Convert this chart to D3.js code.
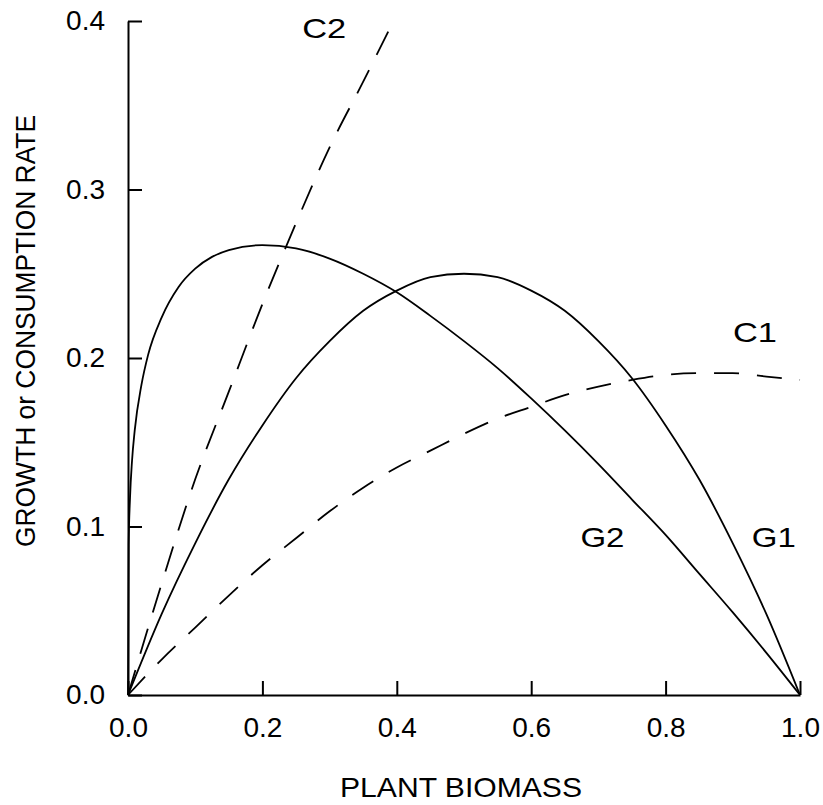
<!DOCTYPE html>
<html>
<head>
<meta charset="utf-8">
<script src="https://cdn.jsdelivr.net/npm/d3@7"></script>
<style>
  body { margin: 0; background: #fff; }
  svg text { font-family: "Liberation Sans", Arial, sans-serif; fill: #000; }
</style>
</head>
<body>
<div class="chart"></div>
<script>
// values
const xTicks = [0, 0.2, 0.4, 0.6, 0.8, 1.0];
const yTicks = [0, 0.1, 0.2, 0.3, 0.4];

const g1X = [0, 0.05, 0.1, 0.15, 0.2, 0.25, 0.3, 0.35, 0.4, 0.45, 0.5, 0.55, 0.6, 0.65, 0.7, 0.75, 0.8, 0.85, 0.9, 0.95, 1.0];
const g1Y = [0, 0.048, 0.09, 0.128, 0.16, 0.188, 0.21, 0.228, 0.24, 0.248, 0.25, 0.248, 0.24, 0.228, 0.21, 0.188, 0.16, 0.128, 0.09, 0.048, 0];

const g2X = [0, 0.001, 0.003, 0.006, 0.01, 0.02, 0.03, 0.05, 0.075, 0.1, 0.125, 0.15, 0.2, 0.25, 0.3, 0.35, 0.4, 0.45, 0.5, 0.55, 0.6, 0.65, 0.7, 0.75, 0.8, 0.85, 0.9, 0.95, 1.0];
const g2Y = [0, 0.089, 0.117, 0.139, 0.157, 0.184, 0.202, 0.224, 0.242, 0.253, 0.26, 0.264, 0.267, 0.265, 0.259, 0.25, 0.239, 0.225, 0.21, 0.194, 0.176, 0.157, 0.137, 0.116, 0.095, 0.072, 0.049, 0.025, 0];

const c1X = [0, 0.05, 0.1, 0.15, 0.2, 0.25, 0.3, 0.35, 0.4, 0.45, 0.5, 0.55, 0.6, 0.65, 0.7, 0.75, 0.8, 0.85, 0.9, 0.95, 1.0];
const c1Y = [0, 0.021, 0.04, 0.059, 0.077, 0.093, 0.109, 0.123, 0.135, 0.145, 0.155, 0.164, 0.171, 0.178, 0.183, 0.187, 0.19, 0.191, 0.191, 0.189, 0.187];

const c2X = [0, 0.05, 0.1, 0.15, 0.2, 0.25, 0.3, 0.35, 0.395];
const c2Y = [0, 0.066, 0.128, 0.18, 0.232, 0.28, 0.325, 0.364, 0.4];

// label anchors (centre x, baseline y) in data units
const curveLabels = [
    { text: "C2", x: 0.292, y: 0.39 },
    { text: "C1", x: 0.933, y: 0.2095 },
    { text: "G2", x: 0.706, y: 0.088 },
    { text: "G1", x: 0.961, y: 0.088 }
];

const w = 823;
const h = 805;

const x = d3.scaleLinear().domain([0, 1]).range([128, 800]);
const y = d3.scaleLinear().domain([0, 0.4]).range([695, 21]);

const svg = d3.select(".chart")
    .append("svg")
    .attr("width", w)
    .attr("height", h);

const xAxis = d3.axisBottom(x)
    .tickValues(xTicks)
    .tickFormat(d3.format(".1f"))
    .tickSizeInner(-14)
    .tickSizeOuter(0)
    .tickPadding(22);

const yAxis = d3.axisLeft(y)
    .tickValues(yTicks)
    .tickFormat(d3.format(".1f"))
    .tickSizeInner(-14)
    .tickSizeOuter(0)
    .tickPadding(23);

const gx = svg.append("g")
    .attr("transform", `translate(0, ${y(0)})`)
    .call(xAxis);

const gy = svg.append("g")
    .attr("transform", `translate(${x(0)}, 0)`)
    .call(yAxis);

[gx, gy].forEach(g => {
    g.selectAll("path, line").attr("stroke", "#000").attr("stroke-width", 2);
    g.selectAll("text").attr("font-size", 28).attr("fill", "#000");
});

const line = d3.line()
    .x(d => x(d[0]))
    .y(d => y(d[1]))
    .curve(d3.curveMonotoneX);

const series = [
    { xs: g1X, ys: g1Y, dash: null },
    { xs: g2X, ys: g2Y, dash: null },
    { xs: c1X, ys: c1Y, dash: "25,18" },
    { xs: c2X, ys: c2Y, dash: "26,17" }
];

series.forEach(s => {
    svg.append("path")
        .datum(s.xs.map((v, i) => [v, s.ys[i]]))
        .attr("d", line)
        .attr("fill", "none")
        .attr("stroke", "#000")
        .attr("stroke-width", 1.8)
        .attr("stroke-dasharray", s.dash);
});

svg.selectAll(".curve-label")
    .data(curveLabels)
    .enter()
    .append("text")
    .attr("class", "curve-label")
    .attr("x", d => x(d.x))
    .attr("y", d => y(d.y))
    .attr("text-anchor", "middle")
    .attr("font-size", 28)
    .attr("textLength", 44)
    .attr("lengthAdjust", "spacingAndGlyphs")
    .text(d => d.text);

svg.append("text")
    .attr("x", 461)
    .attr("y", 797)
    .attr("text-anchor", "middle")
    .attr("font-size", 28)
    .attr("textLength", 242)
    .attr("lengthAdjust", "spacingAndGlyphs")
    .text("PLANT BIOMASS");

svg.append("text")
    .attr("transform", "translate(35, 331) rotate(-90)")
    .attr("text-anchor", "middle")
    .attr("font-size", 28)
    .attr("textLength", 432)
    .attr("lengthAdjust", "spacingAndGlyphs")
    .text("GROWTH or CONSUMPTION RATE");
</script>
</body>
</html>
